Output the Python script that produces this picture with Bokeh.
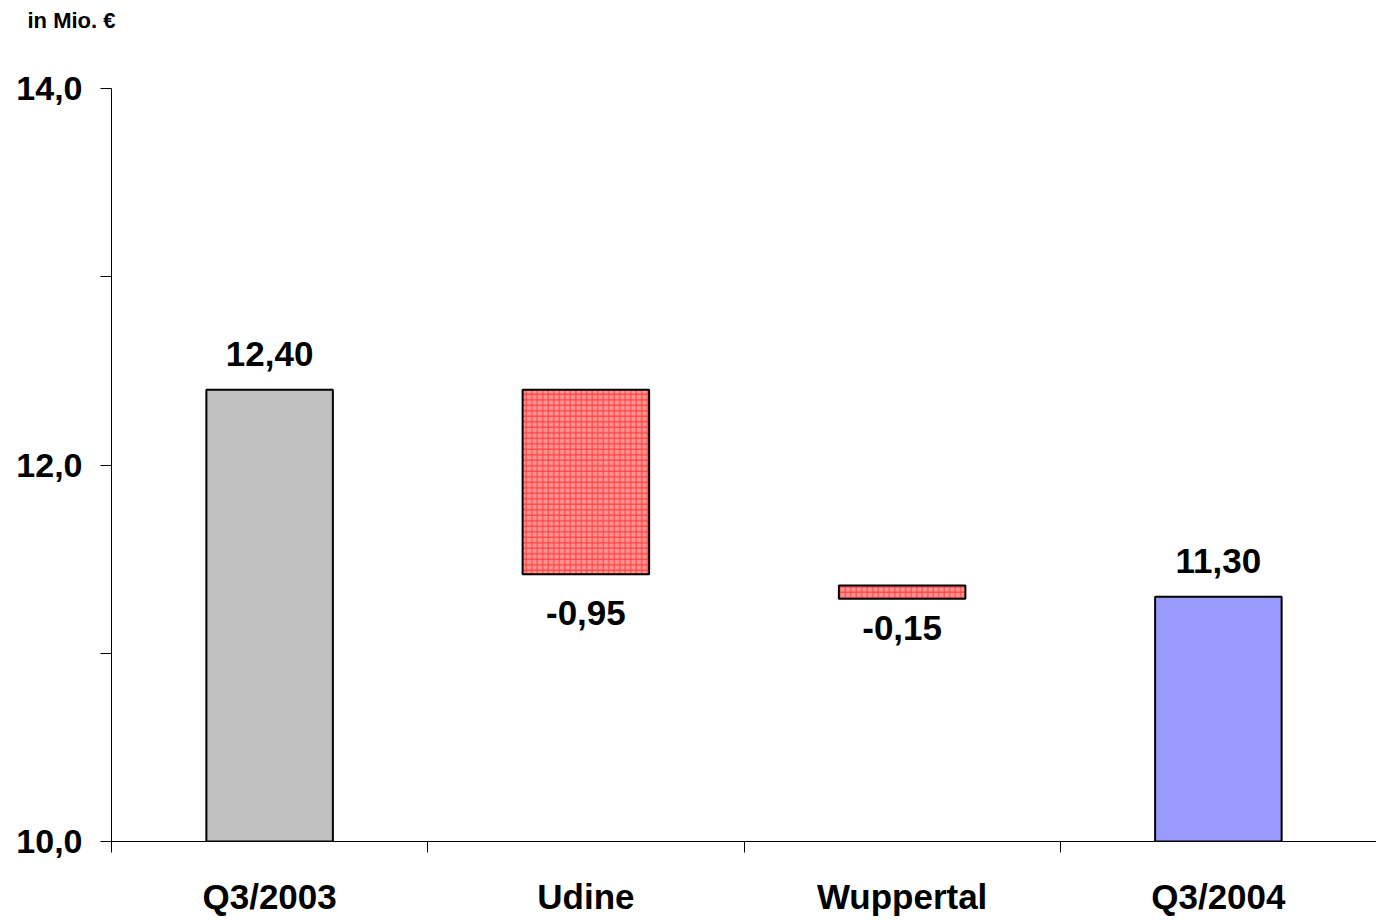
from bokeh.plotting import figure
from bokeh.models import Range1d, FixedTicker, ColumnDataSource, Title
from bokeh.core.properties import value
from bokeh.embed import file_html
from bokeh.resources import INLINE

# ---- data ----
categories = ["Q3/2003", "Udine", "Wuppertal", "Q3/2004"]
bar_bottoms = [10.0, 11.42, 11.29, 10.0]
bar_tops = [12.40, 12.40, 11.36, 11.30]
value_labels = ["12,40", "-0,95", "-0,15", "11,30"]
y_ticks = [10, 11, 12, 13, 14]
y_tick_labels = ["10,0", "", "12,0", "", "14,0"]
unit_label = "in Mio. €"

# ---- styles ----
FONT = "Liberation Sans"
bar_fill = ["#c0c0c0", "#ff9494", "#ff9494", "#9999ff"]
bar_hatch = [" ", "+", "+", " "]
label_offsets = [-36, 39, 29, -36]   # px; negative = above bar top, positive = below bar bottom

x_centers = [i + 0.5 for i in range(len(categories))]

p = figure(width=1376, height=918, output_backend="svg", toolbar_location=None,
           x_range=Range1d(0, len(categories)), y_range=Range1d(10, 14),
           min_border_left=111, min_border_right=0, min_border_top=87, min_border_bottom=74,
           background_fill_color="white", border_fill_color="white", outline_line_color=None,
           title=unit_label, title_location="above")
p.grid.visible = False

# spacer panel between the unit label and the plot frame
p.add_layout(Title(text=" ", text_font_size="10px", standoff=38), "above")

# unit label as title, placed above the y axis
p.title.align = "left"
p.title.offset = -84
p.title.standoff = 10
p.title.text_font = FONT
p.title.text_font_style = "bold"
p.title.text_font_size = "22px"
p.title.text_color = "black"

src = ColumnDataSource(dict(x=x_centers, bottom=bar_bottoms, top=bar_tops,
                            fill=bar_fill, hatch=bar_hatch))
p.vbar(x="x", width=0.4, bottom="bottom", top="top", source=src,
       fill_color="fill", line_color="black", line_width=2,
       hatch_pattern="hatch", hatch_color="#ff2020", hatch_alpha=0.8,
       hatch_scale=5.5, hatch_weight=1)

# value labels
lab_x, lab_y, lab_txt, lab_off = [], [], [], []
for i, t in enumerate(value_labels):
    lab_x.append(x_centers[i])
    if label_offsets[i] < 0:
        lab_y.append(bar_tops[i])
    else:
        lab_y.append(bar_bottoms[i])
    lab_txt.append(t)
    lab_off.append(label_offsets[i])
p.text(x=lab_x, y=lab_y, text=lab_txt, y_offset=lab_off,
       text_font=value(FONT), text_font_style="bold", text_font_size="35px",
       text_align="center", text_baseline="alphabetic", text_color="black")

# y axis
ya = p.yaxis[0]
ya.ticker = FixedTicker(ticks=y_ticks, minor_ticks=[])
ya.major_label_overrides = {t: l for t, l in zip(y_ticks, y_tick_labels)}
ya.major_tick_out = 11
ya.major_tick_in = 0
ya.minor_tick_out = 0
ya.minor_tick_in = 0
ya.major_label_standoff = 18
ya.axis_line_color = "black"
ya.major_tick_line_color = "black"
ya.major_label_text_font = FONT
ya.major_label_text_font_style = "bold"
ya.major_label_text_font_size = "34px"
ya.major_label_text_color = "black"

# x axis
xa = p.xaxis[0]
xa.ticker = FixedTicker(ticks=x_centers, minor_ticks=list(range(len(categories) + 1)))
xa.major_label_overrides = {c: n for c, n in zip(x_centers, categories)}
xa.major_tick_out = 0
xa.major_tick_in = 0
xa.minor_tick_out = 11
xa.minor_tick_in = 0
xa.minor_tick_line_color = "black"
xa.major_label_standoff = 24
xa.axis_line_color = "black"
xa.major_label_text_font = FONT
xa.major_label_text_font_style = "bold"
xa.major_label_text_font_size = "35px"
xa.major_label_text_color = "black"

open("out.html", "w").write(file_html(p, INLINE))
